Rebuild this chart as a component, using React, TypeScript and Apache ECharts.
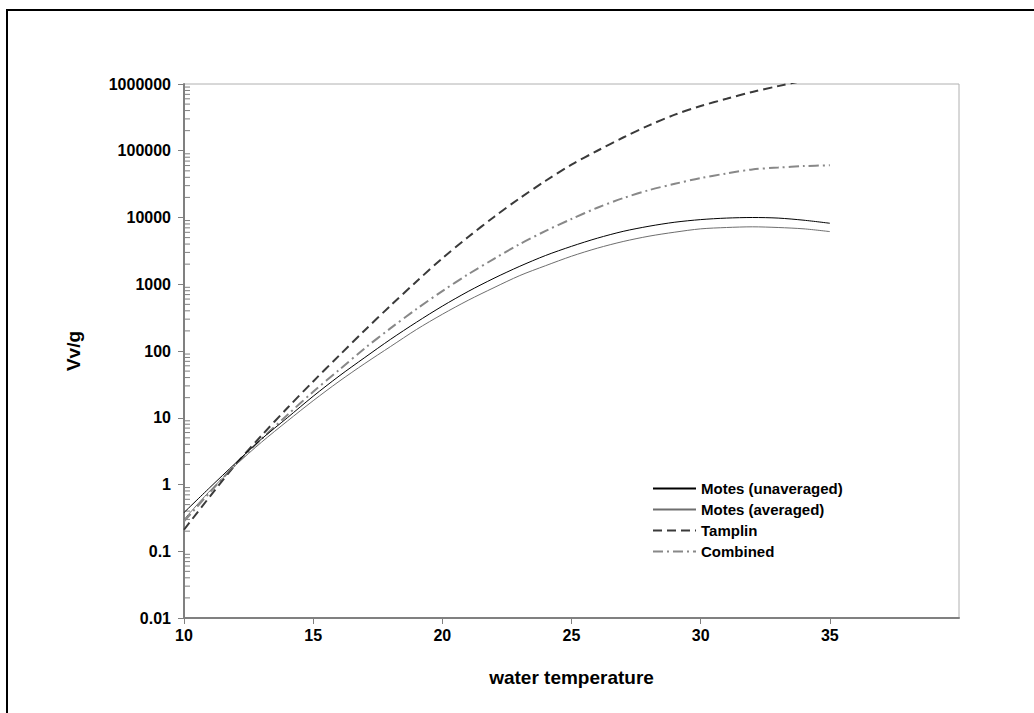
import React, { useEffect, useRef } from "react";
import * as echarts from "echarts";

const temps = [10, 11, 12, 13, 14, 15, 16, 17, 18, 19, 20, 21, 22, 23, 24, 25, 26, 27, 28, 29, 30, 31, 32, 33, 34, 35];

const motesUnaveraged = [0.38, 0.9, 2.1, 4.8, 10, 21, 42, 80, 150, 270, 470, 780, 1230, 1860, 2700, 3700, 4900, 6200, 7400, 8500, 9300, 9800, 10000, 9800, 9100, 8200];
const motesAveraged = [0.3, 0.8, 1.95, 4.3, 8.9, 18, 35, 65, 117, 210, 355, 575, 890, 1350, 1900, 2630, 3470, 4370, 5250, 6030, 6760, 7080, 7250, 7080, 6760, 6150];
const tamplin = [0.21, 0.66, 2.0, 5.4, 14, 35, 85, 205, 480, 1100, 2450, 5100, 10200, 19500, 35500, 62000, 100000, 158000, 240000, 347000, 468000, 600000, 760000, 930000, 1120000, 1290000];
const combined = [0.28, 0.76, 2.0, 4.8, 11, 24.5, 52, 110, 220, 425, 790, 1410, 2400, 4000, 6300, 9500, 14000, 19500, 25700, 32000, 39000, 45700, 52500, 56000, 59000, 60500];

const seriesNames = ["Motes (unaveraged)", "Motes (averaged)", "Tamplin", "Combined"];

const xMin = 10;
const xMax = 40;
const xStep = 5;
const yMin = 0.01;
const yMax = 1000000;

const decades = [-2, -1, 0, 1, 2, 3, 4, 5];
const minorMultipliers = [2, 3, 4, 5, 6, 7, 8, 9];

const FONT = "'Liberation Sans', Arial, sans-serif";

function pair(values: number[]) {
  return temps.map((t, i) => [t, values[i]]);
}

function fmtY(v: number) {
  if (v >= 1) return String(Math.round(v));
  return String(Number(v.toPrecision(1)));
}

export default function App() {
  const ref = useRef<HTMLDivElement>(null);

  useEffect(() => {
    if (!ref.current) return;
    const chart = echarts.init(ref.current, null, { renderer: "svg" });

    const minorTicks: number[][] = [];
    decades.forEach((d) => {
      minorMultipliers.forEach((m) => {
        minorTicks.push([xMin, Number((m * Math.pow(10, d)).toPrecision(2))]);
      });
    });

    const axisGray = "#808080";
    const hiddenSymbol = { opacity: 0 };

    chart.setOption({
      animation: false,
      backgroundColor: "#ffffff",
      textStyle: { fontFamily: FONT },
      grid: {
        left: 184,
        top: 84,
        width: 775,
        height: 534,
        show: true,
        borderColor: "#b0b0b0",
        borderWidth: 1,
        backgroundColor: "transparent",
      },
      legend: {
        data: seriesNames,
        orient: "vertical",
        left: 647,
        top: 476,
        itemWidth: 43,
        itemHeight: 14,
        itemGap: 6,
        itemStyle: { opacity: 0 },
        textStyle: { fontFamily: FONT, fontWeight: "bold", fontSize: 15, color: "#000" },
      },
      xAxis: {
        type: "value",
        min: xMin,
        max: xMax,
        interval: xStep,
        name: "water temperature",
        nameLocation: "middle",
        nameGap: 50,
        nameTextStyle: { fontFamily: FONT, fontWeight: "bold", fontSize: 19, color: "#000" },
        axisLine: { show: true, onZero: false, lineStyle: { color: axisGray, width: 2 } },
        axisTick: { show: true, length: 6, lineStyle: { color: axisGray, width: 1 } },
        axisLabel: {
          showMaxLabel: false,
          margin: 9,
          fontFamily: FONT,
          fontWeight: "bold",
          fontSize: 16,
          color: "#000",
        },
        splitLine: { show: false },
      },
      yAxis: {
        type: "log",
        logBase: 10,
        min: yMin,
        max: yMax,
        interval: 1,
        name: "Vv/g",
        nameLocation: "middle",
        nameGap: 101,
        nameRotate: 90,
        nameTextStyle: { fontFamily: FONT, fontWeight: "bold", fontSize: 19, color: "#000" },
        axisLine: { show: true, lineStyle: { color: axisGray, width: 2 } },
        axisTick: { show: true, length: 6, lineStyle: { color: axisGray, width: 1 } },
        axisLabel: {
          margin: 13,
          fontFamily: FONT,
          fontWeight: "bold",
          fontSize: 16,
          color: "#000",
          formatter: (v: number) => fmtY(v),
        },
        splitLine: { show: false },
      },
      graphic: [
        { type: "line", shape: { x1: 7, y1: 10, x2: 7, y2: 713 }, style: { stroke: "#000", lineWidth: 2 } },
        { type: "line", shape: { x1: 6, y1: 10, x2: 1034, y2: 10 }, style: { stroke: "#000", lineWidth: 2 } },
      ],
      series: [
        {
          name: "minorTicks",
          type: "custom",
          silent: true,
          clip: false,
          data: minorTicks,
          encode: { x: 0, y: 1 },
          renderItem: (params: any, api: any) => {
            const p = api.coord([api.value(0), api.value(1)]);
            return {
              type: "line",
              shape: { x1: p[0] + 1, y1: p[1], x2: p[0] + 6, y2: p[1] },
              style: { stroke: axisGray, lineWidth: 1 },
            };
          },
          z: 1,
        },
        {
          name: seriesNames[0],
          type: "line",
          data: pair(motesUnaveraged),
          smooth: 0.3,
          symbol: "none",
          lineStyle: { color: "#000000", width: 1 },
          itemStyle: { color: "#000000", ...hiddenSymbol },
          z: 5,
        },
        {
          name: seriesNames[1],
          type: "line",
          data: pair(motesAveraged),
          smooth: 0.3,
          symbol: "none",
          lineStyle: { color: "#6e6e6e", width: 1 },
          itemStyle: { color: "#6e6e6e", ...hiddenSymbol },
          z: 4,
        },
        {
          name: seriesNames[2],
          type: "line",
          data: pair(tamplin),
          smooth: 0.3,
          symbol: "none",
          lineStyle: { color: "#3a3a3a", width: 2, type: [9, 5] },
          itemStyle: { color: "#3a3a3a", ...hiddenSymbol },
          z: 3,
        },
        {
          name: seriesNames[3],
          type: "line",
          data: pair(combined),
          smooth: 0.3,
          symbol: "none",
          lineStyle: { color: "#888888", width: 2, type: [10, 4, 2, 4] },
          itemStyle: { color: "#888888", ...hiddenSymbol },
          z: 2,
        },
      ],
    });

    return () => {
      chart.dispose();
    };
  }, []);

  return (
    <div
      ref={ref}
      style={{ position: "fixed", left: 0, top: 0, width: 1034, height: 713, background: "#fff" }}
    />
  );
}
